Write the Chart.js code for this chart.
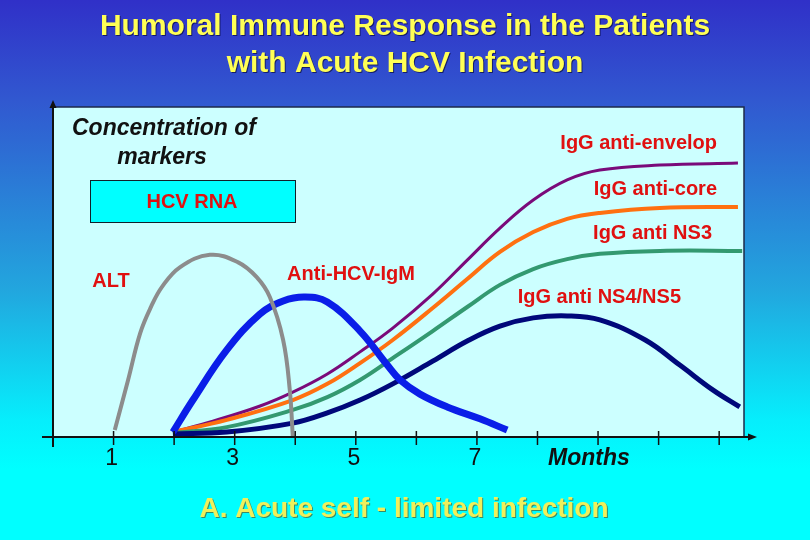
<!DOCTYPE html>
<html>
<head>
<meta charset="utf-8">
<script src="https://cdn.jsdelivr.net/npm/chart.js@4.4.1/dist/chart.umd.min.js"></script>
<style>
  html, body { margin: 0; padding: 0; }
  body {
    width: 810px; height: 540px; overflow: hidden;
    background: linear-gradient(to bottom, #3030c8 0px, #3158d0 100px, #22a6de 290px, #06eefc 420px, #00ffff 470px, #00ffff 540px);
  }
  #wrap { position: relative; width: 810px; height: 540px; }
</style>
</head>
<body>
<div id="wrap"><canvas id="chart"></canvas></div>
<script>
// Months on the x axis, concentration of markers (0-100) on the y axis
const altMonths = [1.02, 1.24, 1.44, 1.62, 1.80, 2.10, 2.59, 3.05, 3.36, 3.58, 3.80, 3.91, 3.96];
const altLevel  = [2.1, 17.3, 31.5, 39.5, 45.5, 51.5, 55.2, 53.0, 48.5, 42.4, 29.4, 14.2, 0];

const igmMonths = [1.98, 2.31, 2.87, 3.42, 3.80, 4.16, 4.53, 5.07, 5.52, 5.73, 6.06, 6.51, 7.05, 7.50];
const igmLevel  = [1.5, 11.2, 26.4, 37.3, 41.2, 42.4, 40.9, 32.1, 21.8, 17.3, 13.0, 9.1, 5.5, 2.1];

const envMonths = [1.98, 2.64, 3.42, 3.96, 4.53, 5.07, 5.61, 6.27, 6.84, 7.38, 7.93, 8.49, 9.03, 10.02, 11.31];
const envLevel  = [1.5, 4.8, 9.4, 13.6, 19.1, 25.8, 33.0, 43.3, 53.6, 63.3, 71.8, 77.9, 80.9, 82.4, 83.0];

const coreMonths = [1.98, 2.87, 3.96, 4.53, 5.07, 5.61, 6.27, 6.84, 7.38, 7.93, 8.49, 9.03, 10.02, 11.31];
const coreLevel  = [1.5, 5.2, 11.2, 16.1, 22.4, 29.4, 39.1, 47.9, 56.1, 62.1, 66.1, 67.9, 69.4, 69.7];

const ns3Months = [1.98, 2.87, 3.96, 4.53, 5.07, 5.61, 6.27, 6.84, 7.38, 7.93, 8.49, 9.03, 10.02, 11.38];
const ns3Level  = [1.2, 3.0, 8.2, 12.1, 17.3, 23.9, 32.1, 39.4, 46.1, 50.9, 53.9, 55.5, 56.4, 56.4];

const ns45Months = [1.98, 2.87, 3.96, 4.53, 5.07, 5.61, 6.27, 6.84, 7.38, 7.93, 8.49, 9.03, 9.78, 10.35, 10.90, 11.34];
const ns45Level  = [0.9, 1.5, 4.2, 7.3, 11.2, 16.1, 23.0, 29.1, 33.6, 36.1, 36.7, 35.5, 29.4, 21.8, 14.2, 9.1];

const tickMonths = [1, 2, 3, 4, 5, 6, 7, 8, 9, 10, 11];
const tickLabels = ['1', '', '3', '', '5', '', '7', '', '', '', ''];

const titleLines = ['Humoral Immune Response in the Patients', 'with Acute HCV Infection'];
const caption = 'A. Acute self - limited infection';

function toPoints(xs, ys) {
    return xs.map((x, i) => ({ x: x, y: ys[i] }));
}

function series(label, xs, ys, color, width) {
    return {
        label: label,
        data: toPoints(xs, ys),
        borderColor: color,
        borderWidth: width,
        pointRadius: 0,
        fill: false,
        tension: 0.4,
        borderCapStyle: 'butt',
        clip: false
    };
}

// Draws the plot panel, the hand-drawn style axes and all the slide text
const slidePlugin = {
    id: 'slide',
    beforeDatasetsDraw(chart) {
        const ctx = chart.ctx;
        const a = chart.chartArea;
        ctx.save();
        ctx.fillStyle = '#ccffff';
        ctx.fillRect(a.left, a.top, a.right - a.left, a.bottom - a.top);
        ctx.strokeStyle = '#1c2a4a';
        ctx.lineWidth = 1.5;
        ctx.beginPath();
        ctx.moveTo(a.left, a.top);
        ctx.lineTo(a.right, a.top);
        ctx.lineTo(a.right, a.bottom);
        ctx.stroke();

        // HCV RNA box
        ctx.fillStyle = '#00ffff';
        ctx.fillRect(90, 180, 205, 42);
        ctx.strokeStyle = '#10202a';
        ctx.lineWidth = 1;
        ctx.strokeRect(90.5, 180.5, 205, 42);
        ctx.restore();
    },
    afterDatasetsDraw(chart) {
        const ctx = chart.ctx;
        const a = chart.chartArea;
        const xs = chart.scales.x;
        ctx.save();

        // axes
        ctx.strokeStyle = '#111';
        ctx.fillStyle = '#111';
        ctx.lineWidth = 2;
        ctx.beginPath();
        ctx.moveTo(a.left, a.bottom + 10);
        ctx.lineTo(a.left, a.top - 4);
        ctx.moveTo(a.left - 11, a.bottom);
        ctx.lineTo(a.right + 6, a.bottom);
        ctx.stroke();
        ctx.beginPath();
        ctx.moveTo(a.left, a.top - 7);
        ctx.lineTo(a.left - 3.5, a.top + 1);
        ctx.lineTo(a.left + 3.5, a.top + 1);
        ctx.closePath();
        ctx.fill();
        ctx.beginPath();
        ctx.moveTo(a.right + 13, a.bottom);
        ctx.lineTo(a.right + 4, a.bottom - 3.5);
        ctx.lineTo(a.right + 4, a.bottom + 3.5);
        ctx.closePath();
        ctx.fill();

        // tick marks and labels
        ctx.lineWidth = 1.5;
        ctx.font = '23px "Liberation Sans", Arial, sans-serif';
        ctx.textAlign = 'center';
        ctx.textBaseline = 'alphabetic';
        tickMonths.forEach((m, i) => {
            const px = xs.getPixelForValue(m);
            ctx.beginPath();
            ctx.moveTo(px, a.bottom - 6);
            ctx.lineTo(px, a.bottom + 8);
            ctx.stroke();
            if (tickLabels[i]) ctx.fillText(tickLabels[i], px - 2, 465);
        });

        ctx.font = 'italic bold 23px "Liberation Sans", Arial, sans-serif';
        ctx.textAlign = 'left';
        ctx.fillText('Months', 548, 465);

        ctx.font = 'italic bold 23px "Liberation Sans", Arial, sans-serif';
        ctx.textAlign = 'center';
        ctx.fillText('Concentration of', 164, 135);
        ctx.fillText('markers', 162, 164);

        // red marker labels
        ctx.fillStyle = '#e01010';
        ctx.font = 'bold 20px "Liberation Sans", Arial, sans-serif';
        ctx.textAlign = 'center';
        ctx.fillText('HCV RNA', 192, 208);
        ctx.fillText('ALT', 111, 287);
        ctx.fillText('Anti-HCV-IgM', 351, 280);
        ctx.textAlign = 'right';
        ctx.fillText('IgG anti-envelop', 717, 149);
        ctx.fillText('IgG anti-core', 717, 195);
        ctx.fillText('IgG anti NS3', 712, 239);
        ctx.fillText('IgG anti NS4/NS5', 681, 303);

        // title
        ctx.textAlign = 'center';
        ctx.font = 'bold 30px "Liberation Sans", Arial, sans-serif';
        ctx.shadowColor = 'rgba(0,0,40,0.6)';
        ctx.shadowOffsetX = 1;
        ctx.shadowOffsetY = 1;
        ctx.fillStyle = '#ffff55';
        ctx.fillText(titleLines[0], 405, 35);
        ctx.fillText(titleLines[1], 405, 72);

        // caption
        ctx.shadowColor = 'rgba(80,90,40,0.7)';
        ctx.fillStyle = '#f0f05a';
        ctx.font = 'bold 28px "Liberation Sans", Arial, sans-serif';
        ctx.fillText(caption, 404, 517);

        ctx.restore();
    }
};

new Chart(document.getElementById('chart'), {
    type: 'line',
    data: {
        datasets: [
            series('ALT', altMonths, altLevel, '#8c8c8c', 4),
            series('Anti-HCV-IgM', igmMonths, igmLevel, '#0a1ee8', 7),
            series('IgG anti NS4/NS5', ns45Months, ns45Level, '#00087a', 5),
            series('IgG anti NS3', ns3Months, ns3Level, '#339970', 4),
            series('IgG anti-core', coreMonths, coreLevel, '#ff7010', 4),
            series('IgG anti-envelop', envMonths, envLevel, '#7a0a7a', 3)
        ]
    },
    options: {
        responsive: true,
        maintainAspectRatio: false,
        animation: false,
        layout: { padding: { left: 53, right: 66, top: 107, bottom: 103 } },
        scales: {
            x: { type: 'linear', min: 0, max: 11.41, display: false },
            y: { type: 'linear', min: 0, max: 100, display: false }
        },
        plugins: {
            legend: { display: false },
            tooltip: { enabled: false }
        }
    },
    plugins: [slidePlugin]
});
</script>
</body>
</html>
